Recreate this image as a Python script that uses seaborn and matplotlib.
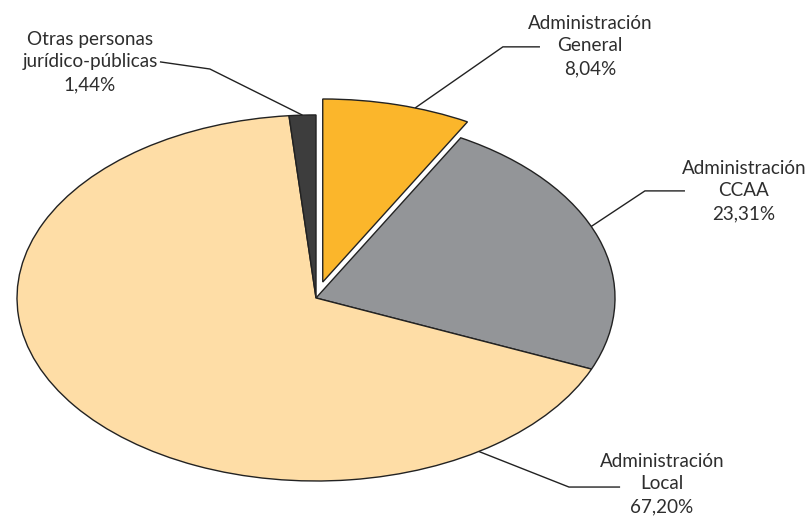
import numpy as np
import matplotlib
matplotlib.use("Agg")
import matplotlib.pyplot as plt
import seaborn as sns

# Distribution by administration type
categories = ["Administración\nGeneral", "Administración\nCCAA",
              "Administración\nLocal", "Otras personas\njurídico-públicas"]
shares = [8.04, 23.31, 67.20, 1.44]
share_labels = ["8,04%", "23,31%", "67,20%", "1,44%"]
colors = ["#FBB62B", "#939598", "#FEDDA6", "#3D3D3D"]
explode = [0.09, 0, 0, 0]

sns.set_theme(style="white")
plt.rcParams["font.family"] = ["Lato", "DejaVu Sans"]

fig = plt.figure(figsize=(8.09, 5.22), dpi=100)
ax = fig.add_axes([0, 0, 1, 1])

wedges, _ = ax.pie(shares, colors=colors, explode=explode, startangle=90,
                   counterclock=False, radius=1.0,
                   wedgeprops=dict(edgecolor="#222222", linewidth=1.0))

# Stretch the pie horizontally into an ellipse
ax.set_aspect("auto")
ax.set_xlim(-1.0569, 1.6488)
ax.set_ylim(-1.224, 1.628)
ax.axis("off")

# Leader lines: anchor angle on the wedge, elbow, line end, text centre
anchor_deg = [72, 23, -57, 92.6]
elbows = [(0.625, 1.372), (1.100, 0.585), (0.846, -1.033), (-0.355, 1.251)]
ends = [(0.749, 1.372), (1.234, 0.585), (1.017, -1.033), (-0.522, 1.290)]
text_pos = [(0.916, 1.377), (1.431, 0.585), (1.157, -1.016), (-0.756, 1.290)]

for w, ang, el, en, tp, cat, lab, ex in zip(wedges, anchor_deg, elbows, ends,
                                            text_pos, categories, share_labels, explode):
    mid = np.deg2rad((w.theta1 + w.theta2) / 2)
    cx, cy = ex * np.cos(mid), ex * np.sin(mid)
    a = np.deg2rad(ang)
    ax_, ay_ = cx + np.cos(a), cy + np.sin(a)
    ax.plot([ax_, el[0], en[0]], [ay_, el[1], en[1]], color="#222222", lw=1.0,
            solid_capstyle="butt")
    ax.text(tp[0], tp[1], f"{cat}\n{lab}", ha="center", va="center",
            fontsize=13.6, color="#2e2e2e", linespacing=1.4)

fig.savefig("out.png", dpi=100)
